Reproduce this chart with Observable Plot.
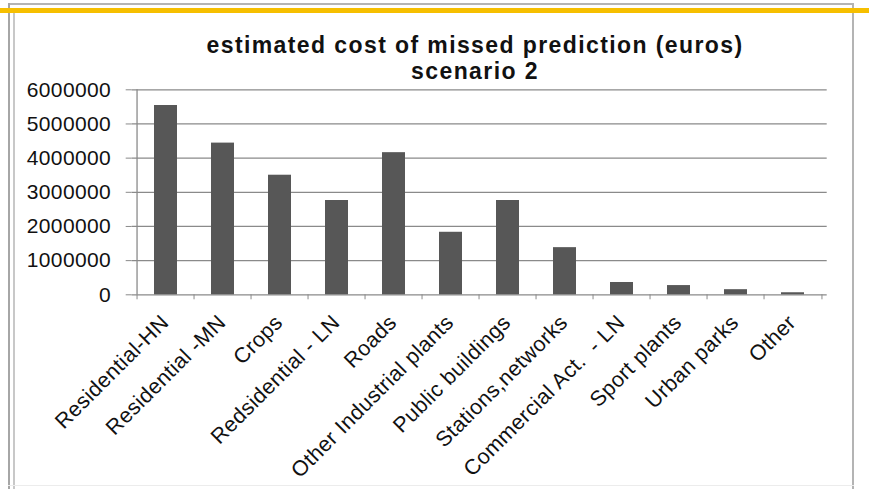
<!DOCTYPE html>
<html><head><meta charset="utf-8">
<script src="https://cdn.jsdelivr.net/npm/d3@7"></script>
<script src="https://cdn.jsdelivr.net/npm/@observablehq/plot@0.6"></script>
<style>
html,body{margin:0;padding:0;background:#fff;}
#wrap{position:relative;width:869px;height:489px;overflow:hidden;background:#fff;font-family:"Liberation Sans",Arial,sans-serif;}
.ln{position:absolute;}
.title{position:absolute;left:0;width:950px;text-align:center;font-size:23px;font-weight:bold;line-height:26px;height:26px;color:#111;letter-spacing:1.4px;white-space:nowrap;}
#chart{position:absolute;left:0;top:0;}
</style>
</head><body>
<div id="wrap">
  <div class="ln" style="left:8px;top:3px;width:846px;height:2px;background:#b4b4b4"></div>
  <div class="ln" style="left:8px;top:3px;width:2px;height:486px;background:#a6a6a6"></div>
  <div class="ln" style="left:13px;top:13px;width:2px;height:476px;background:#c8c8c8"></div>
  <div class="ln" style="left:852px;top:3px;width:2px;height:486px;background:#b4b4b4"></div>
  <div class="ln" style="left:8px;top:485px;width:846px;height:1px;background:#ececec"></div>
  <div class="ln" style="left:0;top:8px;width:869px;height:5px;background:#f6bf00"></div>
  <div id="chart"></div>
  <div class="title" style="top:32px">estimated cost of missed prediction (euros)</div>
  <div class="title" style="top:58px">scenario 2</div>
</div>
<script>
const categories = ["Residential-HN", "Residential -MN", "Crops", "Redsidential - LN", "Roads",
  "Other Industrial plants", "Public buildings", "Stations,networks", "Commercial Act. \u00a0- LN",
  "Sport plants", "Urban parks", "Other"];
const values = [5540000, 4440000, 3500000, 2760000, 4160000, 1830000, 2760000, 1380000,
  360000, 270000, 150000, 60000];
const yTicks = [0, 1000000, 2000000, 3000000, 4000000, 5000000, 6000000];

const data = categories.map((c, i) => ({name: c, value: values[i]}));

const W = 869, H = 489, mL = 131.7, mR = 42.3, mT = 89.3, mB = H - 294.3;
const step = (W - mL - mR) / categories.length;
const grid = "#8a8a8a";
const font = "'Liberation Sans', Arial, sans-serif";

const chart = Plot.plot({
  width: W, height: H,
  marginLeft: mL, marginRight: mR, marginTop: mT, marginBottom: mB,
  x: {domain: categories, paddingInner: 0.6, paddingOuter: 0.3, axis: null, label: null},
  y: {domain: [0, 6000000], axis: null, label: null},
  style: {background: "transparent", fontFamily: font, color: "#111", overflow: "visible"},
  marks: [
    Plot.ruleY(yTicks, {stroke: grid, strokeWidth: 1.3}),
    Plot.barY(data, {x: "name", y: "value", fill: "#575757"}),
    Plot.ruleX([categories[0]], {x: d => d, y1: 0, y2: 6000000, dx: -step / 2, stroke: grid, strokeWidth: 1.3}),
    Plot.axisY({ticks: yTicks, tickSize: 6, tickPadding: 15, tickFormat: d3.format("d"),
      stroke: grid, fill: "#111", fontSize: 21, label: null}),
    Plot.axisX({ticks: categories, tickSize: 5, tickFormat: () => "", dx: -step / 2, stroke: grid, label: null}),
    Plot.axisX({ticks: [categories[categories.length - 1]], tickSize: 5, tickFormat: () => "", dx: step / 2, stroke: grid, label: null}),
    Plot.text(data, {x: "name", y: 0, text: "name", rotate: -45, textAnchor: "end", lineAnchor: "bottom",
      dx: 4, dy: 29, fontSize: 21.5, fill: "#111"})
  ]
});
chart.querySelectorAll("text").forEach(t => t.style.letterSpacing = "0.4px");
document.getElementById("chart").appendChild(chart);
</script>
</body></html>
